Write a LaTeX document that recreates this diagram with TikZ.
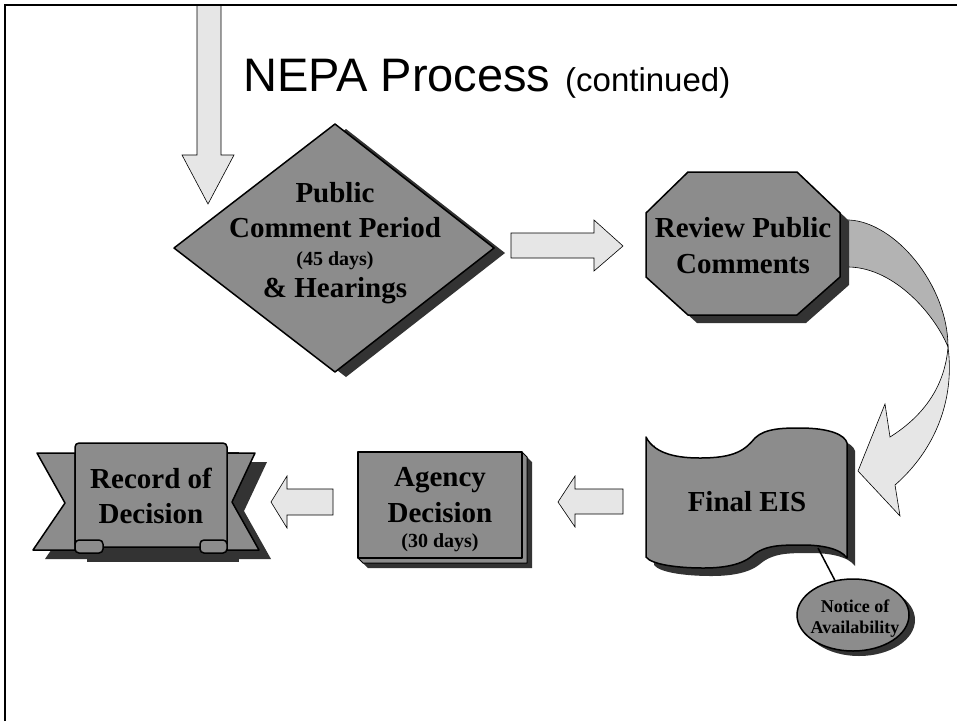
\documentclass[tikz,border=0pt]{standalone}
\usepackage{fontspec}
\setmainfont{Liberation Serif}
\newfontfamily\titlefont{Liberation Sans}
\usetikzlibrary{shapes.geometric}
\definecolor{fillg}{RGB}{140,140,140}
\definecolor{shad}{RGB}{51,51,51}
\definecolor{lightg}{RGB}{230,230,230}
\definecolor{midg}{RGB}{179,179,179}
\tikzset{
  grayshape/.style={fill=fillg, draw=black, line width=1.5pt, line join=round},
  shadowfill/.style={fill=shad},
  blockarrow/.style={fill=lightg, draw=black, line width=0.6pt, line join=miter},
  bigtext/.style={font=\bfseries\fontsize{29}{34}\selectfont, anchor=base, inner sep=0pt},
  smalltext/.style={font=\bfseries\fontsize{20}{24}\selectfont, anchor=base, inner sep=0pt},
  tinytext/.style={font=\bfseries\fontsize{18}{20}\selectfont, anchor=base, inner sep=0pt},
  eispath/.style={insert path={(646,437) .. controls (655,455) and (680,458) .. (700,458)
     .. controls (735,458) and (745,450) .. (755,438) .. controls (765,428) and (785,428) .. (800,428)
     .. controls (830,428) and (845,435) .. (847,443) -- (847,558)
     .. controls (840,548) and (820,545) .. (803,545) .. controls (780,545) and (765,545) .. (752,556)
     .. controls (740,566) and (720,568) .. (703,568) .. controls (680,568) and (652,565) .. (646,557) -- cycle}},
  tailspath/.style={insert path={(37,453) -- (75,453) -- (75,550) -- (33,550) -- (65,503) -- cycle
     (227,453) -- (255,453) -- (232,502) -- (259,550) -- (227,550) -- cycle}},
}
\begin{document}
\begin{tikzpicture}[x=1pt,y=-1pt]
\useasboundingbox (0,0) rectangle (957,721);
\fill[white] (0,0) rectangle (957,721);

% incoming arrow from top
\draw[blockarrow] (197,5) -- (197,155) -- (182,155) -- (208,204) -- (234,155) -- (221,155) -- (221,5);
% frame
\draw[line width=2pt] (5,721) -- (5,5) -- (957,5);

% title
\node[anchor=base west, inner sep=0pt, font=\titlefont\fontsize{47}{50}\selectfont] (title) at (243,91) {NEPA Process};
\node[anchor=base west, inner sep=0pt, font=\titlefont\fontsize{33}{36}\selectfont] (cont) at (565,91) {(continued)};

% diamond: Public Comment Period
\fill[shadowfill] (346,129) -- (505,253) -- (346,377) -- (185,253) -- cycle;
\draw[grayshape] (335,124) -- (494,248) -- (335,372) -- (174,248) -- cycle;
\node[bigtext] (pcp1) at (335,202) {Public};
\node[bigtext] (pcp2) at (335,237) {Comment Period};
\node[smalltext] (pcp3) at (335,265) {(45 days)};
\node[bigtext] (pcp4) at (335,297) {\& Hearings};

% arrow diamond -> octagon
\draw[blockarrow] (511,233) -- (594,233) -- (594,220) -- (623,246) -- (594,271) -- (594,258) -- (511,258) -- cycle;

% curved arrow octagon -> Final EIS
\draw[fill=midg, line width=0.6pt] (840,220) -- (849,220) .. controls (895,222) and (948,285) .. (948,347)
   .. controls (935,315) and (895,268) .. (849,267) -- (840,267) -- cycle;
\draw[blockarrow] (948,347) .. controls (955,400) and (935,450) .. (895,485) -- (900,516) -- (858,471)
   -- (885,404) -- (890,437) .. controls (925,415) and (945,385) .. (948,347) -- cycle;

% octagon: Review Public Comments
\fill[shadowfill, shift={(9,8)}] (688,172) -- (797,172) -- (840,213) -- (840,277) -- (797,315) -- (688,315) -- (646,277) -- (646,213) -- cycle;
\draw[grayshape] (688,172) -- (797,172) -- (840,213) -- (840,277) -- (797,315) -- (688,315) -- (646,277) -- (646,213) -- cycle;
\node[bigtext] (rpc1) at (743,237) {Review Public};
\node[bigtext] (rpc2) at (743,273) {Comments};

% Final EIS
\fill[shadowfill, shift={(8,8)}, eispath];
\draw[grayshape, eispath];
\node[bigtext] (eis) at (747,511) {Final EIS};
\coordinate (eisfoot) at (818,548);

% Notice of Availability
\fill[shadowfill] (859,620) ellipse [x radius=56, y radius=36];
\node[ellipse, grayshape, minimum width=112pt, minimum height=72pt, inner sep=0pt] (noa) at (853,615) {};
\draw[line width=1.5pt] (eisfoot) -- (noa);
\node[tinytext] (noa1) at (855,612) {Notice of};
\node[tinytext] (noa2) at (855,633) {Availability};

% arrow Final EIS -> Agency
\draw[blockarrow] (623,489) -- (575,489) -- (575,476) -- (558,502) -- (575,527) -- (575,514) -- (623,514) -- cycle;

% Agency Decision (3D box)
\fill[shadowfill] (522,452) -- (532,462) -- (532,568) -- (368,568) -- (358,558) -- cycle;
\draw[fill=fillg, draw=black, line width=1pt, line join=round] (522,452) -- (527,457) -- (527,563) -- (363,563) -- (358,558) -- cycle;
\draw[grayshape] (358,452) rectangle (522,558);
\node[bigtext] (ad1) at (440,486) {Agency};
\node[bigtext] (ad2) at (440,522) {Decision};
\node[smalltext] (ad3) at (440,547) {(30 days)};

% arrow Agency -> Record
\draw[blockarrow] (333,489) -- (287,489) -- (287,476) -- (271,502) -- (287,528) -- (287,515) -- (333,515) -- cycle;

% Record of Decision banner
\fill[shadowfill, shift={(12,9)}, tailspath];
\fill[shadowfill] (87,452) rectangle (239,562);
\draw[grayshape, tailspath];
\draw[grayshape, rounded corners=4pt] (75,443) rectangle (227,547);
\draw[grayshape, rounded corners=4pt] (75,540) rectangle (103,553);
\draw[grayshape, rounded corners=4pt] (200,540) rectangle (227,553);
\node[bigtext] (rod1) at (151,488) {Record of};
\node[bigtext] (rod2) at (151,523) {Decision};
\end{tikzpicture}
\end{document}
